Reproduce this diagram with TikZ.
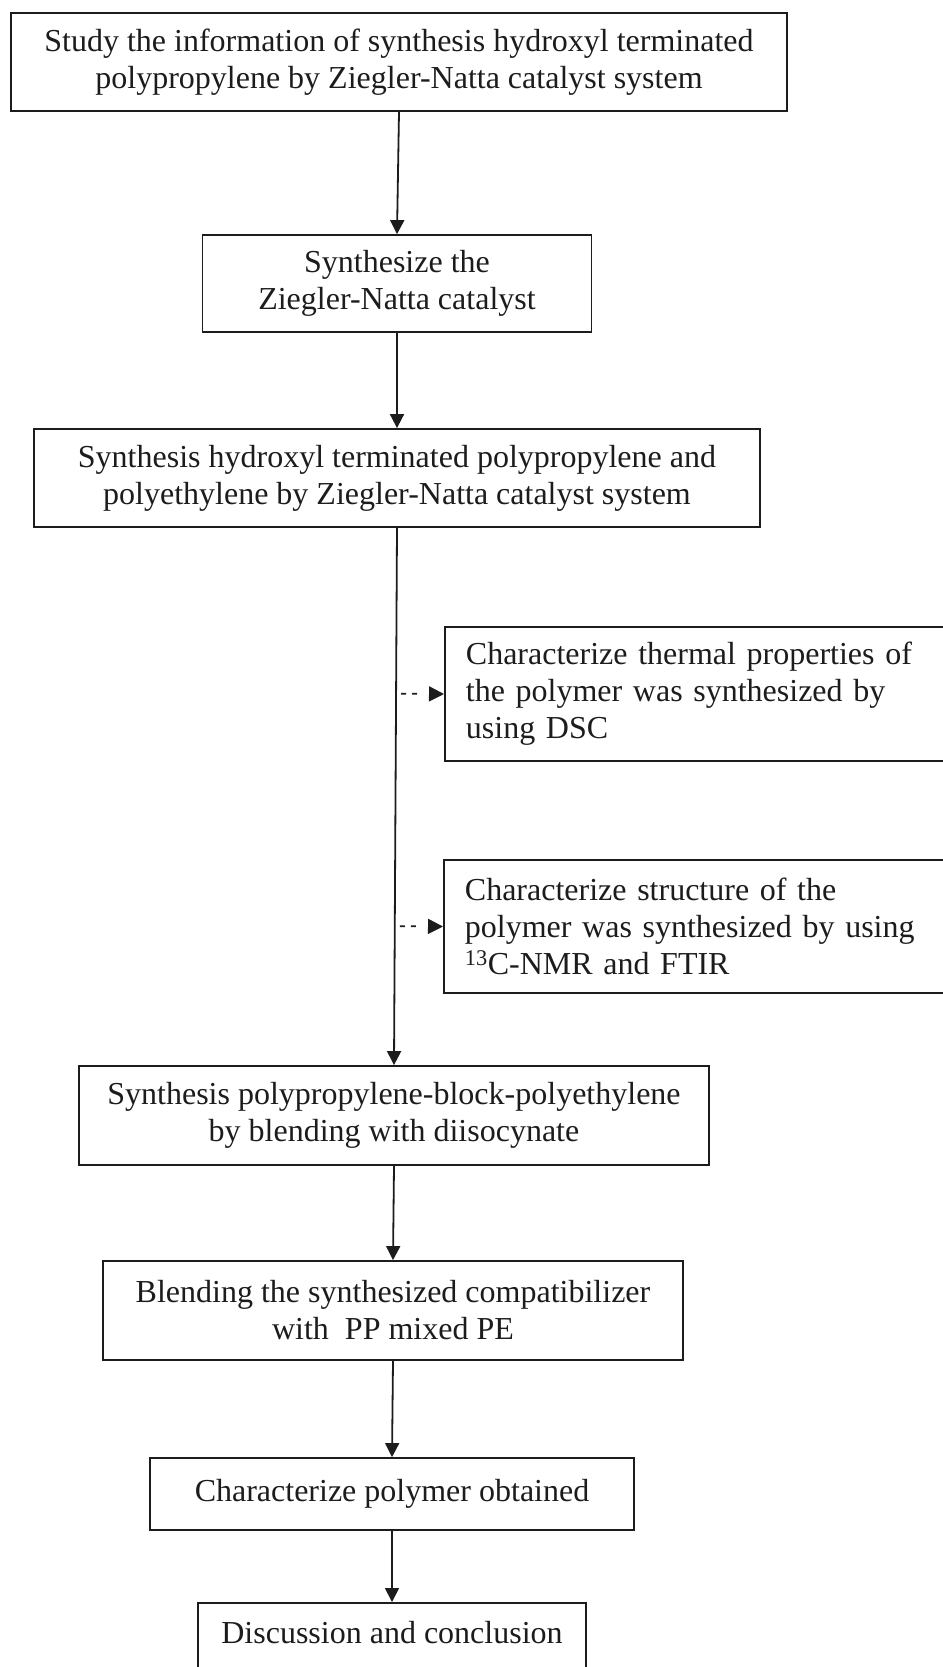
\documentclass[tikz,border=0pt]{standalone}
\usepackage{fontspec}
\setmainfont{Liberation Serif}
\usetikzlibrary{arrows.meta, positioning, calc}
\definecolor{fcInk}{HTML}{1C1C1C}

\begin{document}
\begin{tikzpicture}[x=1pt, y=-1pt,
  box/.style={draw=fcInk, line width=1.8pt, align=center, inner xsep=6pt,
              font=\fontsize{32}{37}\selectfont, text=fcInk},
  side/.style={box, align=left, anchor=west, text width=560pt, inner xsep=21pt},
  flow/.style={draw=fcInk, line width=1.8pt, -{Triangle[length=14pt,width=14pt]}},
  tap/.style={flow, dash pattern=on 5pt off 6pt on 5pt off 20pt, -{Triangle[length=15pt,width=15pt]}}]
  \useasboundingbox (0,0) rectangle (942,1667);
  % kroki
  \node[box, minimum width=776pt, minimum height=98pt] (study) at (399,62)
    {Study the information of synthesis hydroxyl terminated\\polypropylene by Ziegler-Natta catalyst system};
  \node[box, minimum width=389pt, minimum height=97pt] (cat) at (397,283.5)
    {Synthesize the\\Ziegler-Natta catalyst};
  \node[box, minimum width=726pt, minimum height=98pt] (proc) at (397,478)
    {Synthesis hydroxyl terminated polypropylene and\\polyethylene by Ziegler-Natta catalyst system};
  \node[side, minimum height=134pt] (dsc) at (444,694)
    {Characterize thermal properties of\\the polymer was synthesized by\\using DSC};
  \node[side, minimum height=133pt] (nmr) at (443,926.5)
    {Characterize structure of the\\polymer was synthesized by using\\\textsuperscript{13}C-NMR and FTIR};
  \node[box, minimum width=630pt, minimum height=99pt] (block) at (394,1115.5)
    {Synthesis polypropylene-block-polyethylene\\by blending with diisocynate};
  \node[box, minimum width=580pt, minimum height=99pt] (blend) at (393,1310.5)
    {Blending the synthesized compatibilizer\\with~ PP mixed PE};
  \node[box, minimum width=484pt, minimum height=72pt] (char) at (392,1494)
    {Characterize polymer obtained};
  \node[box, anchor=north, minimum width=388pt, text height=22pt, text depth=45pt,
        inner ysep=19pt] (concl) at (392,1602) {Discussion and conclusion};
  % strzalki
  \draw[flow] (study.south) -- (cat.north);
  \draw[flow] (cat.south) -- (proc.north);
  \draw[flow] (proc.south) -- (block.north);
  \draw[flow] (block.south) -- (blend.north);
  \draw[flow] (blend.south) -- (char.north);
  \draw[flow] (char.south) -- (concl.north);
  % odgalezienia
  \coordinate (tapA) at ($(proc.south)!(dsc.west)!(block.north)$);
  \coordinate (tapB) at ($(proc.south)!(nmr.west)!(block.north)$);
  \draw[tap] ([xshift=5pt]tapA) -- (dsc.west);
  \draw[tap] ([xshift=5pt]tapB) -- (nmr.west);
\end{tikzpicture}
\end{document}
